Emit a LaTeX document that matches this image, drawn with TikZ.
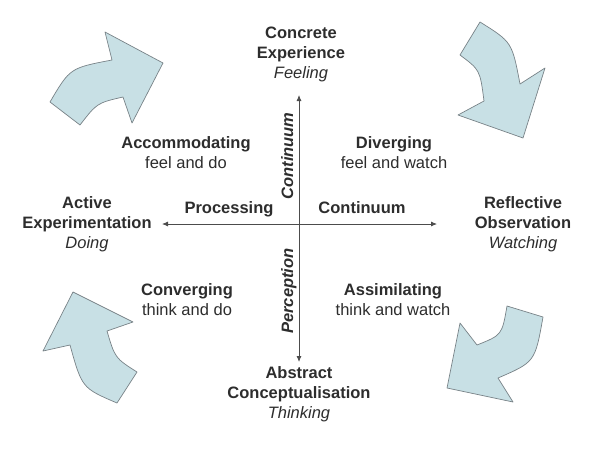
\documentclass[tikz,border=0pt]{standalone}
\usepackage{fontspec}
\setmainfont{Liberation Sans}
\usetikzlibrary{arrows.meta,positioning}
\definecolor{cyclefill}{RGB}{200,224,229}
\definecolor{cycleline}{RGB}{120,130,135}
\definecolor{textgray}{RGB}{45,45,45}

\begin{document}
\begin{tikzpicture}
    [x=1pt, y=-1pt, font=\fontsize{16.5}{20}\selectfont, text=textgray,
    % STYLES
    % The mode style is used for the four learning modes at the ends of the axes
    mode/.style={align=center, inner sep=2pt},
    % The quad style is used for the learning styles between the axes
    quad/.style={align=center, inner sep=2pt},
    % The axislabel style is used to write along the two axes
    axislabel/.style={inner sep=0pt, font=\fontsize{16.5}{20}\selectfont\bfseries},
    % The axis style is used to draw the two continua
    axis/.style={draw=black!70, line width=0.8pt, {Latex[length=6pt,width=5pt]}-{Latex[length=6pt,width=5pt]}},
    % The cycle style is used to draw the big curved arrows
    cycle/.style={fill=cyclefill, draw=cycleline, line width=0.7pt, line join=round}]

    \useasboundingbox (0,0) rectangle (594,450);

    % Draw curved arrows
    \draw [cycle] (50,102) -- (80,125) .. controls (97,103) .. (123,97) -- (132,123)
        -- (163,63) -- (105,32) -- (112,60) .. controls (70,68) .. (50,102) -- cycle;
    \draw [cycle] (480,22) -- (460,55) .. controls (480,70) .. (484,101) -- (458,115)
        -- (523,138) -- (545,68) -- (520,84) .. controls (512,42) .. (480,22) -- cycle;
    \draw [cycle] (507,306) -- (543,317) .. controls (535,362) .. (498,378) -- (513,402)
        -- (447,388) -- (460,323) -- (477,345) .. controls (502,335) .. (507,306) -- cycle;
    \draw [cycle] (73,292) -- (133,322) -- (107,331) .. controls (115,358) .. (137,372)
        -- (117,403) .. controls (82,388) .. (70,345) -- (43,351) -- cycle;

    % Draw learning modes
    \node [mode] (ce) at (301,54) {\textbf{Concrete}\\\textbf{Experience}\\\textit{Feeling}};
    \node [mode] (ro) at (523,224) {\textbf{Reflective}\\\textbf{Observation}\\\textit{Watching}};
    \node [mode] (ac) at (299,394) {\textbf{Abstract}\\\textbf{Conceptualisation}\\\textit{Thinking}};
    \node [mode] (ae) at (87,224) {\textbf{Active}\\\textbf{Experimentation}\\\textit{Doing}};

    % Draw learning styles
    \node [quad] (acc) at (186,153) {\textbf{Accommodating}\\feel and do};
    \node [quad] (div) at (394,153) {\textbf{Diverging}\\feel and watch};
    \node [quad] (ass) at (393,300) {\textbf{Assimilating}\\think and watch};
    \node [quad] (con) at (187,300) {\textbf{Converging}\\think and do};

    % Draw axes
    \coordinate (top) at (299,95);
    \coordinate (bottom) at (299,362);
    \coordinate (left) at (162,224);
    \coordinate (right) at (437,224);
    \draw [axis] (left) -- (right);
    \draw [axis] (bottom) -- (top);

    \node [axislabel, anchor=base] (proc) at (229,213) {Processing};
    \node [axislabel, anchor=base] (pcont) at (362,213) {Continuum};
    \node [axislabel, anchor=base, rotate=90] (vcont) at (293,156) {\itshape Continuum};
    \node [axislabel, anchor=base, rotate=90] (perc) at (293,291) {\itshape Perception};
\end{tikzpicture}
\end{document}
